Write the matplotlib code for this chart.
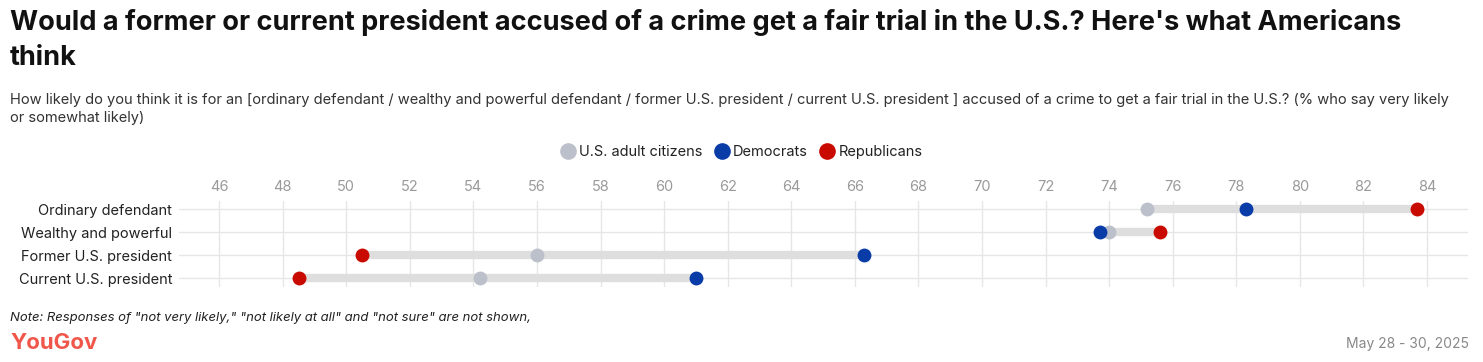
import matplotlib.pyplot as plt

# Data
categories = ["Ordinary defendant", "Wealthy and powerful", "Former U.S. president", "Current U.S. president"]
series_names = ["U.S. adult citizens", "Democrats", "Republicans"]
adults = [75.2, 74.0, 56.0, 54.2]
democrats = [78.3, 73.7, 66.3, 61.0]
republicans = [83.7, 75.6, 50.5, 48.5]
x_ticks = list(range(46, 86, 2))

colors = ["#bcc0ca", "#0a3ca8", "#c80a00"]


def main():
    W, H = 1483, 362
    fig = plt.figure(figsize=(W / 100, H / 100), dpi=100)
    plt.rcParams["font.family"] = ["Inter", "DejaVu Sans"]

    fig.text(10 / W, 1 - 9 / H,
             "Would a former or current president accused of a crime get a fair trial in the U.S.? Here's what Americans\nthink",
             fontsize=19.5, fontweight="bold", color="#111111", va="top", ha="left", linespacing=1.45)
    fig.text(10 / W, 1 - 93 / H,
             "How likely do you think it is for an [ordinary defendant / wealthy and powerful defendant / former U.S. president / current U.S. president ] accused of a crime to get a fair trial in the U.S.? (% who say very likely\nor somewhat likely)",
             fontsize=10.55, color="#333333", va="top", ha="left", linespacing=1.4)

    ax = fig.add_axes([179 / W, 1 - 287 / H, (1468 - 179) / W, (287 - 201) / H])
    ys = list(range(len(categories)))

    for y, a, d, r in zip(ys, adults, democrats, republicans):
        lo, hi = min(a, d, r), max(a, d, r)
        ax.plot([lo, hi], [y, y], color="#dedede", lw=6, solid_capstyle="butt", zorder=2)

    for vals, c, name in zip([adults, democrats, republicans], colors, series_names):
        ax.plot(vals, ys, "o", color=c, markersize=10, markeredgewidth=0, zorder=3, label=name)

    ax.set_xlim(44.74, 85.29)
    ax.set_ylim(3.38, -0.35)
    ax.set_xticks(x_ticks)
    ax.set_yticks(ys)
    ax.set_yticklabels(categories)
    ax.xaxis.tick_top()
    ax.tick_params(axis="x", length=0, pad=5, labelsize=10.5, labelcolor="#9a9a9a")
    ax.tick_params(axis="y", length=0, pad=5, labelsize=10.5, labelcolor="#222222")
    for s in ax.spines.values():
        s.set_visible(False)
    ax.grid(True, color="#e6e6e6", lw=1, zorder=0)
    ax.set_axisbelow(True)

    fig.legend(loc="center", bbox_to_anchor=(0.5, 1 - 152 / H), ncol=3, frameon=False,
               fontsize=10.5, handletextpad=0.3, columnspacing=0.8, handlelength=1.0,
               markerscale=1.2, labelcolor="#222222")

    fig.text(10 / W, 1 - 318 / H,
             "Note: Responses of \"not very likely,\" \"not likely at all\" and \"not sure\" are not shown,",
             fontsize=9.45, style="italic", color="#222222", va="center", ha="left")
    fig.text(10 / W, 1 - 343 / H, "YouGov", fontsize=16, fontweight="bold", color="#f0564a",
             va="center", ha="left")
    fig.text(1 - 14 / W, 1 - 344 / H, "May 28 - 30, 2025", fontsize=10, color="#888888",
             va="center", ha="right")

    fig.savefig("out.png", dpi=100)


if __name__ == "__main__":
    main()
